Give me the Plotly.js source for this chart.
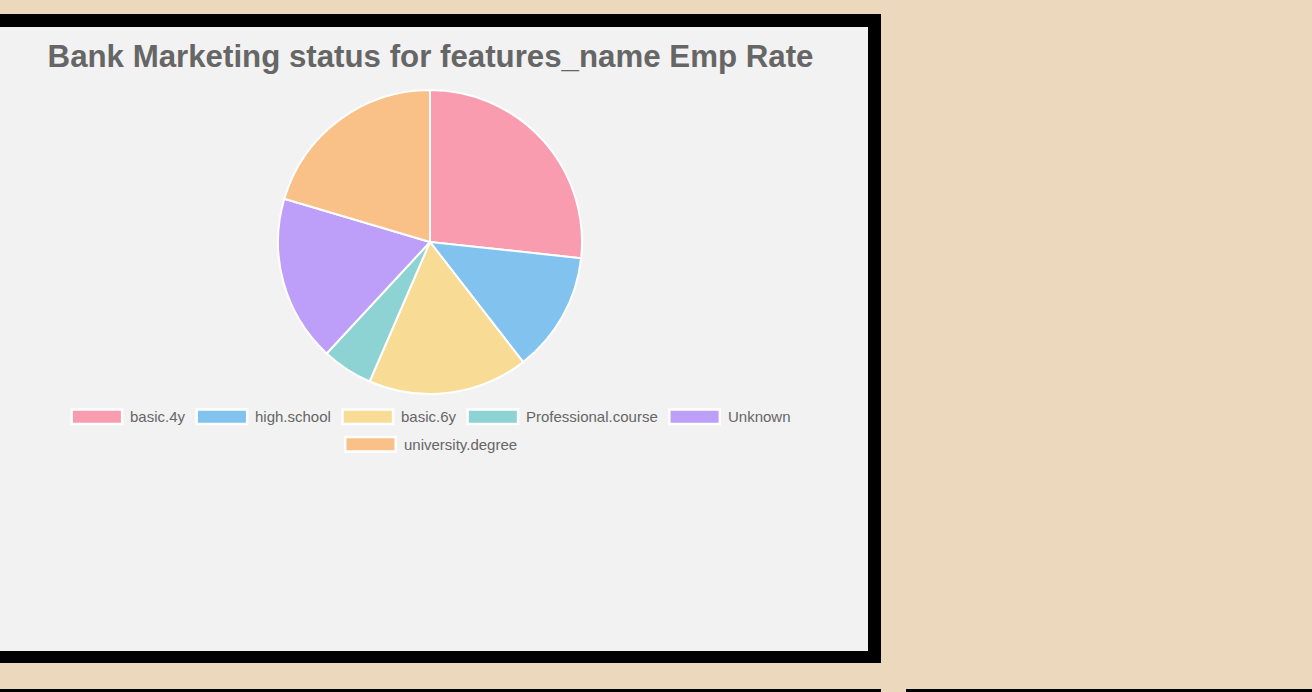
<!DOCTYPE html>
<html><head><meta charset="utf-8">
<script src="https://cdn.plot.ly/plotly-3.0.1.min.js"></script>
<style>
html,body{margin:0;padding:0;background:#ECD9BD;width:1312px;height:692px;overflow:hidden;}
.panel{position:absolute;background:#F2F2F2;border:13px solid #000;box-sizing:border-box;}
#chart{position:absolute;left:0;top:0;width:1312px;height:692px;}
</style></head><body>
<div class="panel" style="left:-20px;top:14px;width:901px;height:649px;border-bottom-width:12px"></div>
<div class="panel" style="left:-20px;top:689px;width:901px;height:649px;"></div>
<div class="panel" style="left:906px;top:689px;width:500px;height:649px;"></div>
<div id="chart"></div>
<script>
// ---- data ----
const titleText = 'Bank Marketing status for features_name Emp Rate';
const labels = ['basic.4y', 'high.school', 'basic.6y', 'Professional.course', 'Unknown', 'university.degree'];
const values = [26.7, 12.8, 17.0, 5.4, 17.7, 20.4];
const colors = ['#F99CB0', '#81C2EE', '#F8DB95', '#8ED3D3', '#BD9EF9', '#F9C088'];

// ---- layout geometry ----
const W = 1312, H = 692;
const cx = 430, cy = 242, R = 152;
const FONT = 'Liberation Sans, Arial, Helvetica, sans-serif';
const LEG_SIZE = 15;
const legendCenter = 430, legendMaxW = 840;
const boxW = 53, boxH = 17, boxToText = 59, itemGap = 11, rowY0 = 416.8, rowStep = 27.5;

const cv = document.createElement('canvas').getContext('2d');
cv.font = LEG_SIZE + "px 'Liberation Sans', Arial, sans-serif";
const items = labels.map((l, i) => ({label: l, color: colors[i], w: boxToText + cv.measureText(l).width}));
const rows = [];
let cur = [], curW = 0;
items.forEach(it => {
  const add = (cur.length ? itemGap : 0) + it.w;
  if (cur.length && curW + add > legendMaxW) { rows.push({items: cur, w: curW}); cur = []; curW = 0; }
  curW += (cur.length ? itemGap : 0) + it.w; cur.push(it);
});
if (cur.length) rows.push({items: cur, w: curW});

const shapes = [], annotations = [];
rows.forEach((row, r) => {
  let x = legendCenter - row.w / 2;
  const y = rowY0 + r * rowStep;
  row.items.forEach(it => {
    shapes.push({type: 'rect', xref: 'paper', yref: 'paper',
      x0: (x + 1.25) / W, x1: (x + boxW - 1.25) / W,
      y0: 1 - (y - boxH / 2 + 1.25) / H, y1: 1 - (y + boxH / 2 - 1.25) / H,
      fillcolor: it.color, line: {color: '#ffffff', width: 2.5}});
    annotations.push({xref: 'paper', yref: 'paper', x: (x + boxToText) / W, y: 1 - y / H,
      xanchor: 'left', yanchor: 'middle', showarrow: false, text: it.label,
      borderpad: 0, font: {family: FONT, size: LEG_SIZE, color: '#666666'}});
    x += it.w + itemGap;
  });
});

const trace = {
  type: 'pie', labels: labels, values: values, sort: false, direction: 'clockwise', rotation: 0,
  marker: {colors: colors, line: {color: '#ffffff', width: 2}},
  textinfo: 'none', hoverinfo: 'label+value', showlegend: false,
  domain: {x: [(cx - R) / W, (cx + R) / W], y: [1 - (cy + R) / H, 1 - (cy - R) / H]}
};

const layout = {
  width: W, height: H, margin: {l: 0, r: 0, t: 0, b: 0},
  paper_bgcolor: 'rgba(0,0,0,0)', plot_bgcolor: 'rgba(0,0,0,0)', showlegend: false,
  title: {text: titleText, font: {family: FONT, size: 31.25, color: '#666666', weight: 'bold'},
    xref: 'container', yref: 'container', x: 430.5 / W, xanchor: 'center', y: 1 - 55.6 / H, yanchor: 'middle'},
  shapes: shapes, annotations: annotations
};
Plotly.newPlot('chart', [trace], layout, {displayModeBar: false, staticPlot: false});
</script>
</body></html>
